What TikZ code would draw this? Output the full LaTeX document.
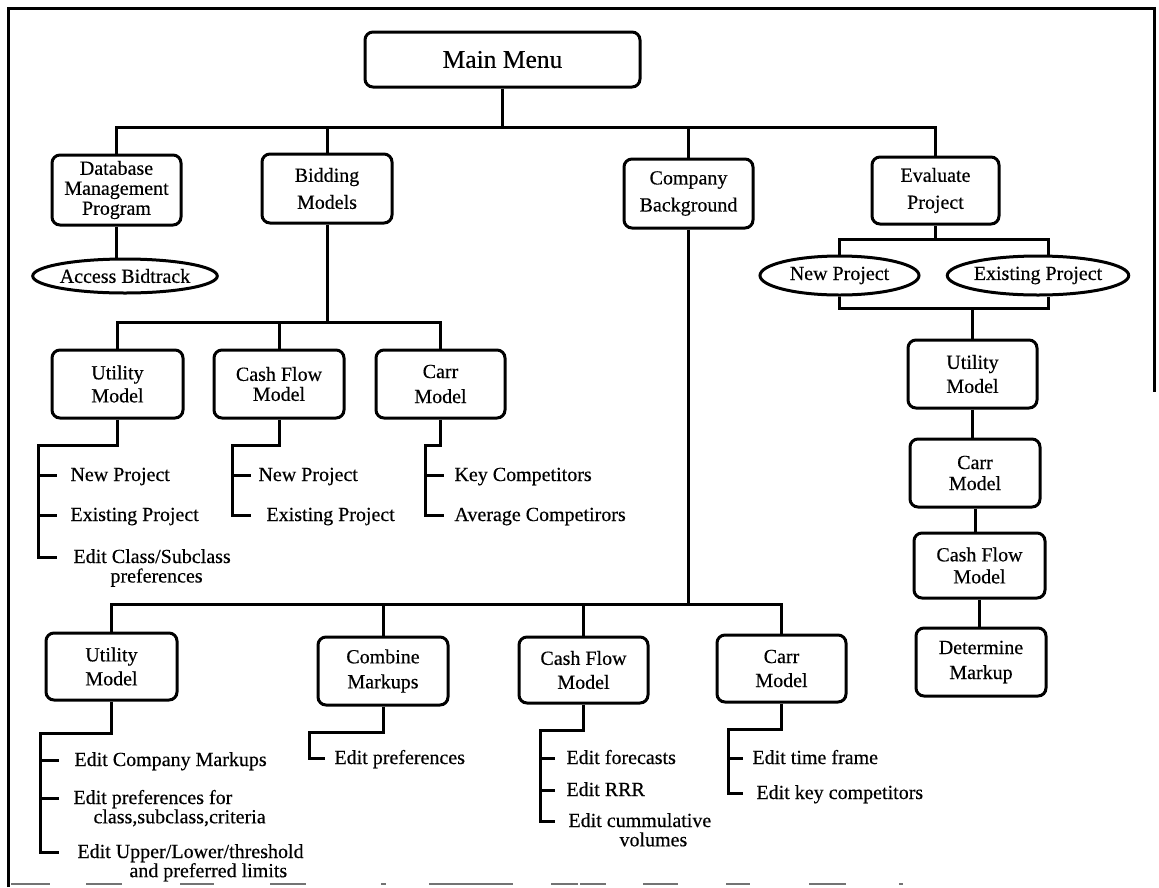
\documentclass[tikz,border=0pt]{standalone}
\usepackage{fontspec}
\setmainfont{Liberation Serif}[FakeBold=0.4]
\usetikzlibrary{shapes.geometric}

\tikzset{
  menubox/.style={draw, rounded corners=8pt, align=center, inner sep=0pt,
    font=\fontsize{20}{24}\selectfont},
  wh/.style 2 args={minimum width=#1pt, minimum height=#2pt},
  optoval/.style={draw, ellipse, inner sep=0pt, font=\fontsize{20}{24}\selectfont},
  entry/.style={anchor=west, inner sep=0pt, text height=14pt, text depth=2pt,
    font=\fontsize{20}{18}\selectfont},
  scanedge/.style={line width=2pt, black!55}
}

\begin{document}
\begin{tikzpicture}[x=1pt, y=-1pt, line width=3pt]
\fill[white] (0,0) rectangle (1159,887);
\useasboundingbox (0,0) rectangle (1159,887);

% outer frame
\draw (8,887) -- (8,8) -- (1154,8) -- (1154,392);
\foreach \a/\b in {11/50, 86/122, 180/214, 270/306, 381/386, 429/513, 551/578,
                   580/606, 643/678, 726/750, 809/846, 899/903}
  \draw[scanedge] (\a,884) -- (\b,884);

% level coordinates
\coordinate (lvl1) at (0,127);
\coordinate (lvl2) at (0,322);
\coordinate (lvl3) at (0,604);
\coordinate (evbus) at (0,239);
\coordinate (epj) at (1048,239);
\coordinate (epk) at (1048,308);

% main menu and first level
\node[menubox, font=\fontsize{25.5}{30}\selectfont, wh={275}{55}] (mm) at (502.5,59.5) {Main Menu};
\node[menubox, font=\fontsize{20}{20}\selectfont, wh={129}{70}] (db) at (116.5,190) {Database\\Management\\Program};
\node[menubox, font=\fontsize{20}{27}\selectfont, wh={130}{69}] (bm) at (327,188.5) {Bidding\\Models};
\node[menubox, font=\fontsize{20}{27}\selectfont, wh={129}{69}] (cb) at (688.5,193.5) {Company\\Background};
\node[menubox, font=\fontsize{20}{27}\selectfont, wh={127}{67}] (ev) at (935.5,190.5) {Evaluate\\Project};

\node[optoval, minimum width=178pt, minimum height=34pt] (ab) at (125,276) {Access Bidtrack};
\node[optoval, minimum width=159pt, minimum height=39pt] (np) at (839.5,275.5) {New Project};
\node[optoval, minimum width=178pt, minimum height=39pt] (ep) at (1038,275.5) {Existing Project};

% evaluation chain
\node[menubox, wh={129}{68}] (ru) at (972.5,374) {Utility\\Model};
\node[menubox, font=\fontsize{20}{21}\selectfont, wh={130}{68}] (rc) at (975,473) {Carr\\Model};
\node[menubox, font=\fontsize{20}{22}\selectfont, wh={131}{65}] (rf) at (979.5,565.5) {Cash Flow\\Model};
\node[menubox, font=\fontsize{20}{25}\selectfont, wh={130}{68}] (rd) at (981,662) {Determine\\Markup};

% bidding models
\node[menubox, font=\fontsize{20}{23}\selectfont, wh={131}{68}] (ul) at (117.5,384) {Utility\\Model};
\node[menubox, font=\fontsize{20}{20}\selectfont, wh={130}{68}] (uf) at (279,384) {Cash Flow\\Model};
\node[menubox, font=\fontsize{20}{25}\selectfont, wh={129}{68}] (uc) at (440.5,384) {Carr\\Model};

% company background
\node[menubox, wh={131}{67}] (bu) at (111.5,666.5) {Utility\\Model};
\node[menubox, font=\fontsize{20}{25}\selectfont, wh={130}{68}] (bk) at (383,671) {Combine\\Markups};
\node[menubox, wh={129}{66}] (bf) at (583.5,670) {Cash Flow\\Model};
\node[menubox, wh={129}{67}] (bc) at (781.5,668.5) {Carr\\Model};

% tree connectors
\draw (mm.south) -- (mm.south |- lvl1);
\draw (db.north) -- (db.north |- lvl1) -- (ev.north |- lvl1) -- (ev.north);
\draw (bm.north) -- (bm.north |- lvl1);
\draw (cb.north) -- (cb.north |- lvl1);
\draw (db.south) -- (db.south |- ab.north);

\draw (ev.south) -- (ev.south |- evbus);
\draw (np.north) -- (np.north |- evbus) -- (epj) -- (epj |- ep.north);
\draw (np.south) -- (np.south |- epk) -- (epk) -- (epk |- ep.south);
\draw (ru.north) -- (ru.north |- epk);
\draw (ru.south) -- (ru.south |- rc.north);
\draw (rc.south) -- (rc.south |- rf.north);
\draw (rf.south) -- (rf.south |- rd.north);

\draw (bm.south) -- (bm.south |- lvl2);
\draw (ul.north) -- (ul.north |- lvl2) -- (uc.north |- lvl2) -- (uc.north);
\draw (uf.north) -- (uf.north |- lvl2);

\draw (cb.south) -- (cb.south |- lvl3);
\draw (bu.north) -- (bu.north |- lvl3) -- (bc.north |- lvl3) -- (bc.north);
\draw (bk.north) -- (bk.north |- lvl3);
\draw (bf.north) -- (bf.north |- lvl3);

% option lists
\node[entry] (ul1) at (69,475) {New Project};
\node[entry] (ul2) at (69,515) {Existing Project};
\node[entry] (ul3) at (72,557) {\begin{tabular}[t]{@{}l@{}}Edit Class/Subclass\\\hspace*{37pt}preferences\end{tabular}};
\coordinate (ulk) at (38,445);
\draw (ul.south) -- (ul.south |- ulk) -- (ulk) -- (ulk |- ul3) -- ++(19,0);
\draw (ulk |- ul1) -- ++(19,0);
\draw (ulk |- ul2) -- ++(19,0);

\node[entry] (uf1) at (257,475) {New Project};
\node[entry] (uf2) at (265,515) {Existing Project};
\coordinate (ufk) at (232,445);
\draw (uf.south) -- (uf.south |- ufk) -- (ufk) -- (ufk |- uf2) -- ++(19,0);
\draw (ufk |- uf1) -- ++(19,0);

\node[entry] (uc1) at (453,475) {Key Competitors};
\node[entry] (uc2) at (453,515) {Average Competirors};
\coordinate (uck) at (425,445);
\draw (uc.south) -- (uc.south |- uck) -- (uck) -- (uck |- uc2) -- ++(19,0);
\draw (uck |- uc1) -- ++(19,0);

\node[entry] (bu1) at (73,760) {Edit Company Markups};
\node[entry] (bu2) at (72,798) {\begin{tabular}[t]{@{}l@{}}Edit preferences for\\\hspace*{20pt}class,subclass,criteria\end{tabular}};
\node[entry, font=\fontsize{20}{17}\selectfont] (bu3) at (76,852) {\begin{tabular}[t]{@{}l@{}}Edit Upper/Lower/threshold\\\hspace*{52pt}and preferred limits\end{tabular}};
\coordinate (buk) at (40,733);
\draw (bu.south) -- (bu.south |- buk) -- (buk) -- (buk |- bu3) -- ++(19,0);
\draw (buk |- bu1) -- ++(19,0);
\draw (buk |- bu2) -- ++(19,0);

\node[entry] (bk1) at (333,758) {Edit preferences};
\coordinate (bkk) at (309,732);
\draw (bk.south) -- (bk.south |- bkk) -- (bkk) -- (bkk |- bk1) -- ++(16,0);

\node[entry] (bf1) at (565,758) {Edit forecasts};
\node[entry] (bf2) at (565,790) {Edit RRR};
\node[entry] (bf3) at (567,821) {\begin{tabular}[t]{@{}l@{}}Edit cummulative\\\hspace*{51pt}volumes\end{tabular}};
\coordinate (bfk) at (540,730);
\draw (bf.south) -- (bf.south |- bfk) -- (bfk) -- (bfk |- bf3) -- ++(15,0);
\draw (bfk |- bf1) -- ++(15,0);
\draw (bfk |- bf2) -- ++(15,0);

\node[entry] (bc1) at (751,758) {Edit time frame};
\node[entry] (bc2) at (755,793) {Edit key competitors};
\coordinate (bck) at (728,729);
\draw (bc.south) -- (bc.south |- bck) -- (bck) -- (bck |- bc2) -- ++(15,0);
\draw (bck |- bc1) -- ++(15,0);
\end{tikzpicture}
\end{document}
